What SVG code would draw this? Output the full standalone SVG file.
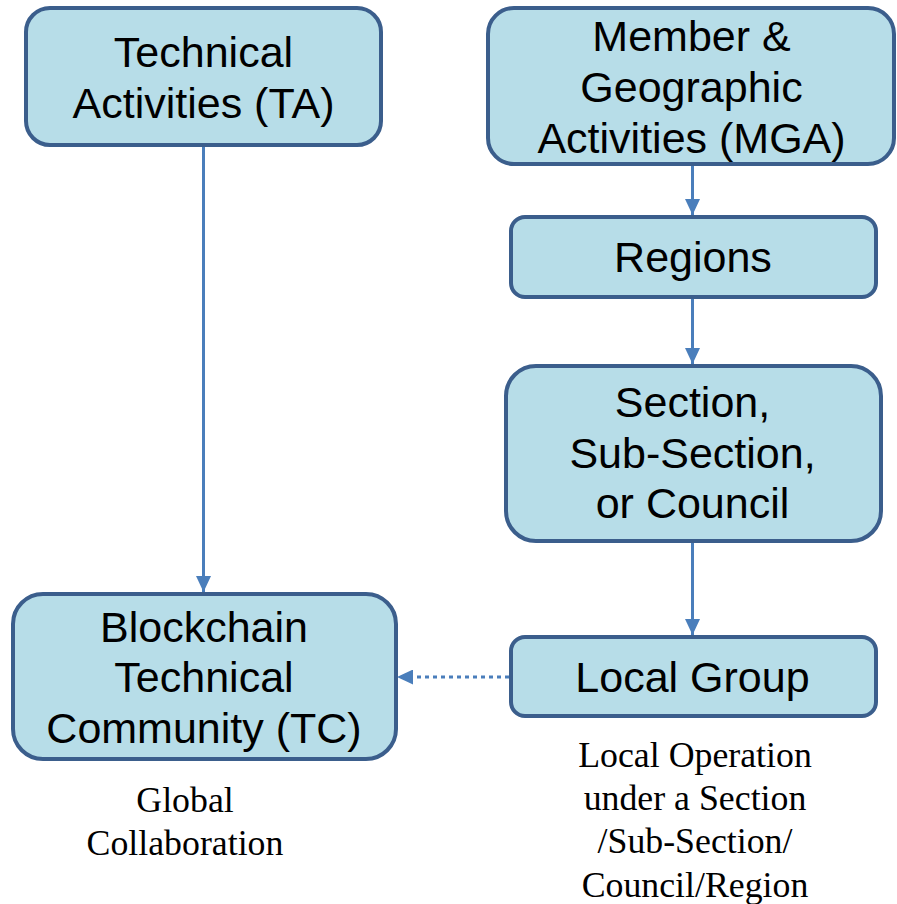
<svg xmlns="http://www.w3.org/2000/svg" width="897" height="904" viewBox="0 0 897 904">
<style>
.box{fill:#b7dde8;stroke:#3b5e8c;stroke-width:4}
.t{font-family:"Liberation Sans",Arial,sans-serif;font-size:43px;fill:#000;text-anchor:middle}
.n{font-family:"Liberation Serif","Times New Roman",serif;font-size:35.8px;fill:#000;text-anchor:middle}
.c{stroke:#4a7ebb;stroke-width:3;fill:none}
</style>
<defs>
<marker id="ah2" markerWidth="16" markerHeight="15" refX="16" refY="7.5" orient="auto" markerUnits="userSpaceOnUse" viewBox="0 0 16 15">
<path d="M0,0 L16,7.5 L0,15 Z" fill="#4a7ebb"/>
</marker>
</defs>
<g id="connectors">
<line class="c" x1="203.5" y1="146" x2="203.5" y2="592" marker-end="url(#ah2)"/>
<line class="c" x1="692.5" y1="165" x2="692.5" y2="215" marker-end="url(#ah2)"/>
<line class="c" x1="692.5" y1="298" x2="692.5" y2="364" marker-end="url(#ah2)"/>
<line class="c" x1="692.5" y1="542" x2="692.5" y2="635" marker-end="url(#ah2)"/>
<line class="c" x1="509" y1="677" x2="397" y2="677" stroke-width="4" stroke-dasharray="4 4" marker-end="url(#ah2)"/>
</g>
<g id="ta">
<rect class="box" x="26" y="8" width="355" height="137" rx="24"/>
<text class="t" x="203.5" y="67">Technical</text>
<text class="t" x="203.5" y="118">Activities (TA)</text>
</g>
<g id="mga">
<rect class="box" x="488" y="8" width="406" height="156" rx="26"/>
<text class="t" x="691.5" y="51">Member &amp;</text>
<text class="t" x="691.5" y="102">Geographic</text>
<text class="t" x="691.5" y="153">Activities (MGA)</text>
</g>
<g id="regions">
<rect class="box" x="511" y="217" width="365" height="80" rx="14"/>
<text class="t" x="693" y="272">Regions</text>
</g>
<g id="section">
<rect class="box" x="506" y="366" width="375" height="175" rx="30"/>
<text class="t" x="692.5" y="417">Section,</text>
<text class="t" x="692.5" y="468">Sub-Section,</text>
<text class="t" x="692.5" y="518">or Council</text>
</g>
<g id="localgroup">
<rect class="box" x="511" y="637" width="365" height="79" rx="14"/>
<text class="t" x="692.5" y="692">Local Group</text>
</g>
<g id="tc">
<rect class="box" x="13" y="594" width="383" height="165" rx="30"/>
<text class="t" x="204" y="642">Blockchain</text>
<text class="t" x="204" y="692">Technical</text>
<text class="t" x="204" y="743">Community (TC)</text>
</g>
<g id="notes">
<text class="n" x="185" y="812">Global</text>
<text class="n" x="185" y="855">Collaboration</text>
<text class="n" x="695" y="767">Local Operation</text>
<text class="n" x="695" y="810">under a Section</text>
<text class="n" x="695" y="853">/Sub-Section/</text>
<text class="n" x="695" y="897">Council/Region</text>
</g>
</svg>
